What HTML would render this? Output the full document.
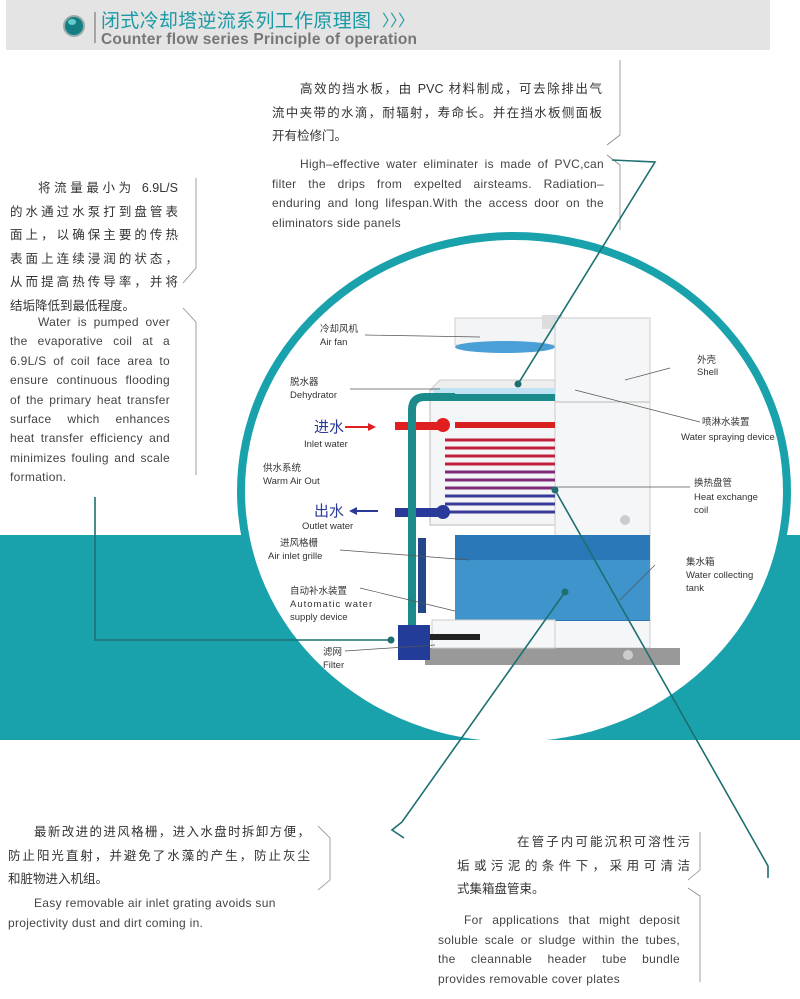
<!DOCTYPE html>
<html><head><meta charset="utf-8"><style>
html,body{margin:0;padding:0;background:#fff}
body{width:800px;height:999px;position:relative;overflow:hidden;font-family:"Liberation Sans","Noto Sans CJK SC",sans-serif;color:#333}
.t{position:absolute;font-size:12.5px;line-height:23.5px}
.t div{text-align:justify;text-align-last:justify;white-space:nowrap}
.t div.n{text-align-last:left}
.e{position:absolute;font-size:12px;line-height:19.5px;color:#444;letter-spacing:0.3px}
svg{position:absolute;left:0;top:0}
.l{font-size:9.5px;fill:#333}
</style></head><body>
<svg width="800" height="999" viewBox="0 0 800 999">
<rect x="6" y="0" width="764" height="50" fill="#e4e4e4"/>
<circle cx="74" cy="26" r="11" fill="#9aa" /><circle cx="74" cy="26" r="9" fill="#137f82"/><ellipse cx="72" cy="22" rx="4" ry="3" fill="#6cc"/>
<line x1="95" y1="12" x2="95" y2="43" stroke="#666"/>
<text x="101" y="27" font-size="19" fill="#1a9aa6" font-family="Noto Sans CJK SC,sans-serif" textLength="270">闭式冷却塔逆流系列工作原理图</text>
<text x="382" y="26" font-size="16" fill="#1a9aa6">〉〉〉</text>
<text x="101" y="44" font-size="15.5" font-weight="bold" fill="#777" textLength="316">Counter flow series Principle of operation</text>
<rect x="0" y="535" width="800" height="205" fill="#19a2ac"/>
<ellipse cx="514" cy="491" rx="277" ry="259" fill="#19a2ac"/>
<ellipse cx="514" cy="491" rx="269" ry="251" fill="#fff"/>
<rect x="0" y="740" width="800" height="259" fill="#fff"/>
<g stroke="#888" fill="none" stroke-width="0.8">
<path d="M196 178V268L183 283M183 308L196 322V475"/>
<path d="M620 60V135L607 145M607 155L620 165V230"/>
<path d="M318 826L330 838V880L318 890"/>
<path d="M700 832V870L688 880M688 888L700 896V982"/>
</g>
<rect x="430" y="390" width="125" height="135" fill="#f3f5f6" stroke="#bbb"/>
<path d="M455 318H555V345H455Z" fill="#f2f4f5" stroke="#ccc"/>
<ellipse cx="505" cy="347" rx="50" ry="6" fill="#4a9fd6"/>
<path d="M440 380H555V390H430Z" fill="#eee" stroke="#ccc"/>
<rect x="542" y="315" width="20" height="14" fill="#ddd"/>
<rect x="555" y="318" width="95" height="330" fill="#f4f6f7" stroke="#ccc"/>
<line x1="555" y1="402" x2="650" y2="402" stroke="#bbb"/>
<rect x="433" y="388" width="122" height="6" fill="#bfe3f2"/>
<rect x="455" y="535" width="195" height="86" fill="#2a78b8"/>
<rect x="455" y="560" width="195" height="60" fill="#4ea6d8" opacity="0.6"/>
<rect x="425" y="648" width="255" height="17" fill="#999"/>
<rect x="432" y="620" width="123" height="28" fill="#f6f7f8" stroke="#ccc"/>
<g fill="none" stroke-width="3">
<path d="M455 425H555" stroke="#d82020" stroke-width="6"/>
<path d="M445 440H555M445 448H555M445 456H555M445 464H555" stroke="#c0203a"/>
<path d="M445 472H555M445 480H555M445 488H555" stroke="#802a7a"/>
<path d="M445 496H555M445 504H555M445 512H555" stroke="#3a3a9a"/>
</g>
<rect x="395" y="422" width="50" height="8" fill="#e02020"/><circle cx="443" cy="425" r="7" fill="#e02020"/>
<rect x="395" y="508" width="50" height="9" fill="#2a3a9a"/><circle cx="443" cy="512" r="7" fill="#2a3a9a"/>
<path d="M412 640V410Q412 397 425 397H455" stroke="#1a8a8a" stroke-width="8" fill="none"/>
<rect x="455" y="394" width="100" height="7" fill="#1a8a8a"/>
<rect x="418" y="538" width="8" height="75" fill="#24478a"/>
<path d="M398 625H430V660H398Z" fill="#233c9a"/>
<rect x="430" y="634" width="50" height="6" fill="#222"/>
<circle cx="625" cy="520" r="5" fill="#ccc"/><circle cx="628" cy="655" r="5" fill="#ccc"/>
<path d="M345 427H370" stroke="#e02020" stroke-width="2"/><path d="M376 427l-8-4v8z" fill="#e02020"/>
<path d="M355 511H378" stroke="#2a3a9a" stroke-width="2"/><path d="M349 511l8-4v8z" fill="#2a3a9a"/>
<g stroke="#555" stroke-width="0.7">
<line x1="365" y1="335" x2="480" y2="337"/><line x1="350" y1="389" x2="440" y2="389"/>
<line x1="575" y1="390" x2="700" y2="422"/><line x1="625" y1="380" x2="670" y2="368"/>
<line x1="555" y1="487" x2="690" y2="487"/><line x1="340" y1="550" x2="470" y2="560"/>
<line x1="360" y1="588" x2="455" y2="611"/><line x1="345" y1="651" x2="435" y2="645"/>
<line x1="620" y1="600" x2="655" y2="565"/>
</g>
<g stroke="#1d6f70" stroke-width="1.6" fill="none">
<path d="M518 384L655 162L612 160"/>
<path d="M391 640H95V497"/>
<path d="M565 592L402 822L392 830L404 838"/>
<path d="M555 490L768 866V878"/>
</g>
<circle cx="518" cy="384" r="3.5" fill="#1d6f70"/><circle cx="391" cy="640" r="3.5" fill="#1d6f70"/>
<circle cx="565" cy="592" r="3.5" fill="#1d6f70"/><circle cx="555" cy="490" r="3.5" fill="#1d6f70"/>
<text class="l" x="320" y="332">冷却风机</text><text class="l" x="320" y="345">Air fan</text>
<text class="l" x="290" y="385">脱水器</text><text class="l" x="290" y="398">Dehydrator</text>
<text x="314" y="432" font-size="15" fill="#2a3a9a">进水</text><text class="l" x="304" y="447">Inlet water</text>
<text class="l" x="263" y="471">供水系统</text><text class="l" x="263" y="484">Warm Air Out</text>
<text x="314" y="516" font-size="15" fill="#2a3a9a">出水</text><text class="l" x="302" y="529">Outlet water</text>
<text class="l" x="280" y="546">进风格栅</text><text class="l" x="268" y="559">Air inlet grille</text>
<text class="l" x="290" y="594">自动补水装置</text><text class="l" x="290" y="607" letter-spacing="1">Automatic water</text><text class="l" x="290" y="620">supply device</text>
<text class="l" x="323" y="655">滤网</text><text class="l" x="323" y="668">Filter</text>
<text class="l" x="697" y="363">外壳</text><text class="l" x="697" y="375">Shell</text>
<text class="l" x="702" y="425">喷淋水装置</text><text class="l" x="681" y="440">Water spraying device</text>
<text class="l" x="694" y="486">换热盘管</text><text class="l" x="694" y="500">Heat exchange</text><text class="l" x="694" y="513">coil</text>
<text class="l" x="686" y="565">集水箱</text><text class="l" x="686" y="578">Water collecting</text><text class="l" x="686" y="591">tank</text>
</svg>
<div class="t" style="left:272px;top:78px;width:330px">
<div style="padding-left:28px">高效的挡水板，由 PVC 材料制成，可去除排出气</div>
<div>流中夹带的水滴，耐辐射，寿命长。并在挡水板侧面板</div>
<div class="n">开有检修门。</div></div>
<div class="e" style="left:272px;top:155px;width:332px;text-indent:28px;text-align:justify">High–effective water eliminater is made of PVC,can filter the drips from expelted airsteams. Radiation–enduring and long lifespan.With the access door on the eliminators side panels</div>
<div class="t" style="left:10px;top:177px;width:168px">
<div style="padding-left:28px">将流量最小为 6.9L/S</div>
<div>的水通过水泵打到盘管表</div>
<div>面上，以确保主要的传热</div>
<div>表面上连续浸润的状态，</div>
<div>从而提高热传导率，并将</div>
<div class="n">结垢降低到最低程度。</div></div>
<div class="e" style="left:10px;top:313px;width:160px;text-indent:28px;text-align:justify;line-height:19.4px">Water is pumped over the evaporative coil at a 6.9L/S of coil face area to ensure continuous flooding of the primary heat transfer surface which enhances heat transfer efficiency and minimizes fouling and scale formation.</div>
<div class="t" style="left:8px;top:821px;width:302px">
<div style="padding-left:26px">最新改进的进风格栅，进入水盘时拆卸方便，</div>
<div>防止阳光直射，并避免了水藻的产生，防止灰尘</div>
<div class="n">和脏物进入机组。</div></div>
<div class="e" style="left:8px;top:894px;width:310px;text-indent:26px">Easy removable air inlet grating avoids sun projectivity dust and dirt coming in.</div>
<div class="t" style="left:457px;top:831px;width:233px">
<div style="padding-left:60px">在管子内可能沉积可溶性污</div>
<div>垢或污泥的条件下，采用可清洁</div>
<div class="n">式集箱盘管束。</div></div>
<div class="e" style="left:438px;top:911px;width:242px;text-indent:26px;text-align:justify">For applications that might deposit soluble scale or sludge within the tubes, the cleannable header tube bundle provides removable cover plates</div>
</body></html>
